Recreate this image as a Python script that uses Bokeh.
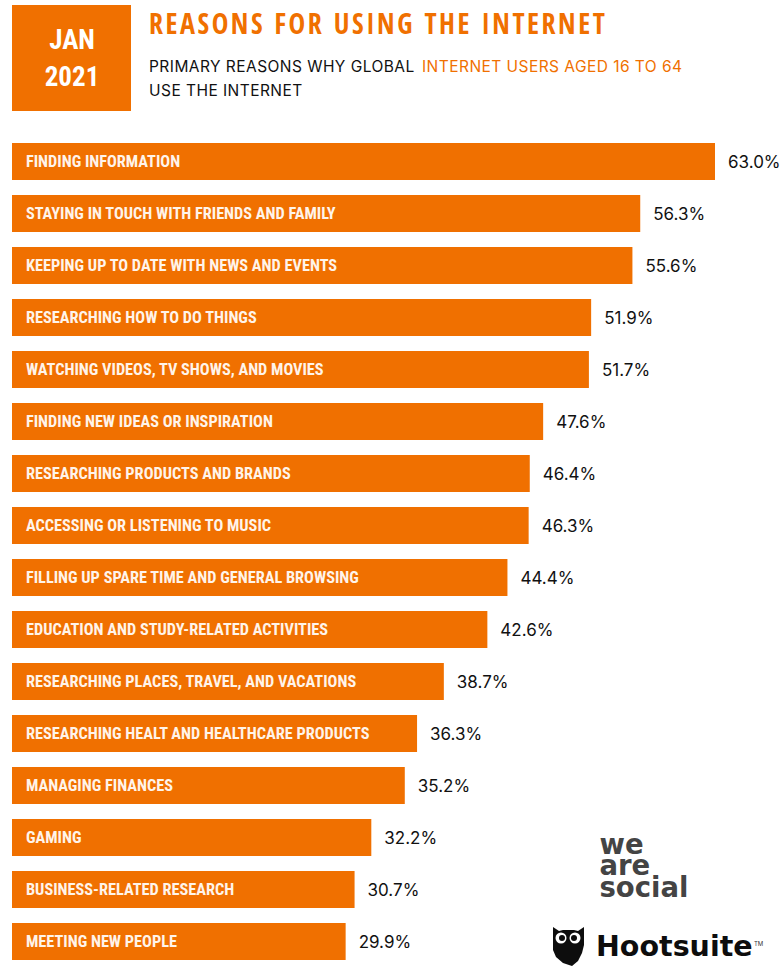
from bokeh.core.properties import value
from bokeh.embed import file_html
from bokeh.layouts import column, row
from bokeh.models import ColumnDataSource, Range1d
from bokeh.plotting import figure
from bokeh.resources import INLINE

reasons = [
    "FINDING INFORMATION",
    "STAYING IN TOUCH WITH FRIENDS AND FAMILY",
    "KEEPING UP TO DATE WITH NEWS AND EVENTS",
    "RESEARCHING HOW TO DO THINGS",
    "WATCHING VIDEOS, TV SHOWS, AND MOVIES",
    "FINDING NEW IDEAS OR INSPIRATION",
    "RESEARCHING PRODUCTS AND BRANDS",
    "ACCESSING OR LISTENING TO MUSIC",
    "FILLING UP SPARE TIME AND GENERAL BROWSING",
    "EDUCATION AND STUDY-RELATED ACTIVITIES",
    "RESEARCHING PLACES, TRAVEL, AND VACATIONS",
    "RESEARCHING HEALT AND HEALTHCARE PRODUCTS",
    "MANAGING FINANCES",
    "GAMING",
    "BUSINESS-RELATED RESEARCH",
    "MEETING NEW PEOPLE",
]
shares = [63.0, 56.3, 55.6, 51.9, 51.7, 47.6, 46.4, 46.3, 44.4, 42.6, 38.7, 36.3, 35.2, 32.2, 30.7, 29.9]

ORANGE = "#F07000"
INK = "#111111"
CONDENSED = value("Roboto Condensed")
WIDTH, HEIGHT = 782, 969
HEADER_H, BADGE_W, TITLE_H = 120, 149, 46

# Bokeh's canvas sits half a pixel off the grid; the ranges take that back out.
NUDGE = 0.5
# The value axis runs about 11.16 px per percentage point, with zero 12 px from the left.
PX_PER_PCT = 703 / 63.0
# Rows repeat every 52 px, the first one centred at y = 161.5.
ROW_STEP, ROW_ZERO = 52.0, 161.5


def panel(x0, x1, y0, y1, spacing=None):
    """A bare figure whose data coordinates are page pixels."""
    fig = figure(
        width=x1 - x0, height=y1 - y0, output_backend="svg", toolbar_location=None,
        x_range=Range1d(x0 + NUDGE, x1 + NUDGE), y_range=Range1d(y1 + NUDGE, y0 + NUDGE),
        min_border=0, outline_line_color=None,
    )
    fig.axis.visible = False
    fig.grid.visible = False
    if spacing is not None:
        fig.stylesheets = [f":host {{ letter-spacing: {spacing}px; }}"]
    return fig


# Date badge
badge = panel(0, BADGE_W, 0, HEADER_H)
badge.quad(left=12, right=131, top=5, bottom=111, color=ORANGE, line_color=None)
badge.text(x=[72, 72], y=[40, 75.5], text=["JAN", "2021"], text_color="#FFFFFF", text_font=CONDENSED,
           text_font_size="27px", text_font_style="bold", text_align="center", text_baseline="middle")

# Spaced headline
headline = panel(BADGE_W, WIDTH, 0, TITLE_H, spacing=2.55)
headline.text(x=[149], y=[23], text=["REASONS FOR USING THE INTERNET"], text_color=ORANGE,
              text_font=value("Open Sans Condensed"), text_font_size="28px", text_font_style="bold",
              text_baseline="middle")

# Two-line subtitle
subtitle = panel(BADGE_W, WIDTH, TITLE_H, HEADER_H, spacing=0.45)
sub_font = dict(text_font=value("Inter"), text_font_size="15.5px", text_baseline="middle")
subtitle.text(x=[149], y=[66], text=["PRIMARY REASONS WHY GLOBAL"], text_color=INK, **sub_font)
subtitle.text(x=[422], y=[66], text=["INTERNET USERS AGED 16 TO 64"], text_color=ORANGE, **sub_font)
subtitle.text(x=[149], y=[90], text=["USE THE INTERNET"], text_color=INK, **sub_font)

# Bar chart
chart = panel(0, WIDTH, HEADER_H, HEIGHT)
chart.x_range = Range1d((NUDGE - 12) / PX_PER_PCT, (WIDTH - 12 + NUDGE) / PX_PER_PCT)
chart.y_range = Range1d((HEIGHT + NUDGE - ROW_ZERO) / ROW_STEP, (HEADER_H + NUDGE - ROW_ZERO) / ROW_STEP)
chart.extra_x_ranges["page"] = Range1d(NUDGE, WIDTH + NUDGE)
chart.extra_y_ranges["page"] = Range1d(HEIGHT + NUDGE, HEADER_H + NUDGE)
page = dict(x_range_name="page", y_range_name="page")

rows = ColumnDataSource(dict(
    reason=reasons, share=shares, row=list(range(len(reasons))),
    share_label=[f"{s:.1f}%" for s in shares],
))
chart.hbar(y="row", left=0, right="share", height=37 / ROW_STEP, color=ORANGE, line_color=None, source=rows)
chart.text(x=1.25, y="row", text="reason", source=rows, text_color="#FFF4EA", text_font=CONDENSED,
           text_font_size="16.3px", text_font_style="bold", text_baseline="middle")
chart.text(x="share", y="row", text="share_label", source=rows, x_offset=13, text_color=INK,
           text_font=value("Inter"), text_font_size="17px", text_baseline="middle")

# Publisher marks
chart.text(x=[599.5, 599.5, 599.5], y=[843.5, 865, 886.5], text=["we", "are", "social"], text_color="#444444",
           text_font=value("DejaVu Sans"), text_font_size="27.5px", text_font_style="bold",
           text_baseline="middle", **page)
chart.patch(x=[553, 559, 563, 574, 578, 584, 584, 582, 578, 572, 563, 556, 553],
            y=[927, 931, 930, 930, 931, 927, 945, 953, 961, 966, 963, 957, 950],
            color="#0d0d0d", line_color=None, **page)
chart.circle(x=[561, 575], y=[938, 938], radius=5.5, fill_color="#FFFFFF", line_color=None, **page)
chart.circle(x=[562, 574], y=[938, 938], radius=3, fill_color="#0d0d0d", line_color=None, **page)
chart.text(x=[596], y=[946.5], text=["Hootsuite"], text_color="#0d0d0d", text_font=value("DejaVu Sans"),
           text_font_size="28.5px", text_font_style="bold", text_baseline="middle", **page)
chart.text(x=[754], y=[943], text=["TM"], text_color="#333333", text_font=value("Inter"),
           text_font_size="6px", text_baseline="middle", **page)

layout = column(row(badge, column(headline, subtitle, spacing=0), spacing=0), chart, spacing=0)
open("out.html", "w").write(file_html(layout, INLINE))
